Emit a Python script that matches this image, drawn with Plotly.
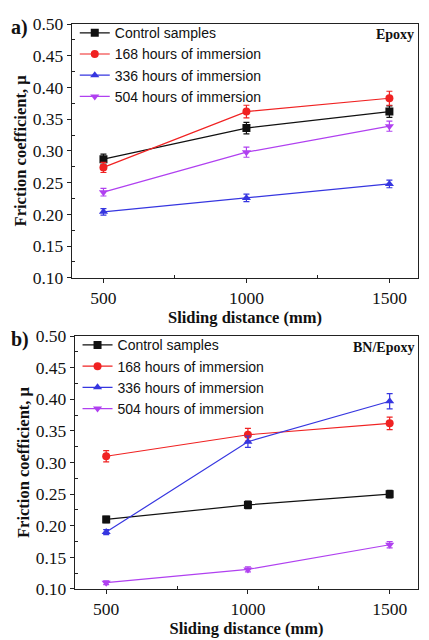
"""Friction coefficient vs sliding distance for Epoxy and BN/Epoxy after immersion."""

import plotly.graph_objects as go
from plotly.subplots import make_subplots

DISTANCE = [500, 1000, 1500]
SERIES_NAMES = [
    "Control samples",
    "168 hours of immersion",
    "336 hours of immersion",
    "504 hours of immersion",
]

# panel a) Epoxy
EPOXY_MEAN = [
    [0.287, 0.336, 0.362],
    [0.274, 0.362, 0.383],
    [0.204, 0.226, 0.248],
    [0.235, 0.298, 0.339],
]
EPOXY_ERR = [
    [0.008, 0.009, 0.009],
    [0.008, 0.010, 0.011],
    [0.005, 0.006, 0.006],
    [0.006, 0.008, 0.008],
]

# panel b) BN/Epoxy
BN_MEAN = [
    [0.210, 0.233, 0.250],
    [0.310, 0.344, 0.362],
    [0.190, 0.333, 0.397],
    [0.110, 0.131, 0.170],
]
BN_ERR = [
    [0.005, 0.006, 0.006],
    [0.009, 0.010, 0.010],
    [0.004, 0.009, 0.012],
    [0.003, 0.004, 0.005],
]

Y_TICKS = [0.10, 0.15, 0.20, 0.25, 0.30, 0.35, 0.40, 0.45, 0.50]

COLORS = ["#111111", "#F02222", "#3636E0", "#B040F0"]
SYMBOLS = ["square", "circle", "triangle-up", "triangle-down"]

SERIF = "Liberation Serif, Times New Roman, serif"
SANS = "Liberation Sans, Arial, sans-serif"

fig = make_subplots(rows=2, cols=1)

for row, (means, errs, legend) in enumerate(
    [(EPOXY_MEAN, EPOXY_ERR, "legend"), (BN_MEAN, BN_ERR, "legend2")], start=1
):
    for name, y, e, color, symbol in zip(SERIES_NAMES, means, errs, COLORS, SYMBOLS):
        fig.add_trace(
            go.Scatter(
                x=DISTANCE,
                y=y,
                name=name,
                mode="lines+markers",
                line=dict(color=color, width=1.2),
                marker=dict(color=color, symbol=symbol, size=8),
                error_y=dict(type="data", array=e, color=color, thickness=1.2, width=3),
                legend=legend,
            ),
            row=row,
            col=1,
        )

axis_common = dict(
    showline=True,
    linecolor="#222222",
    linewidth=1.3,
    mirror=True,
    ticks="outside",
    ticklen=4,
    tickcolor="#222222",
    showgrid=False,
    zeroline=False,
    automargin=False,
    tickfont=dict(family=SERIF, size=17.5, color="#111111"),
)

fig.update_xaxes(
    **axis_common,
    range=[390, 1600],
    tickvals=DISTANCE,
    minor=dict(tickvals=[750, 1250], ticks="inside", ticklen=3, tickcolor="#222222"),
    title=dict(
        text="<b>Sliding distance (mm)</b>",
        font=dict(family=SERIF, size=16.5, color="#111111"),
        standoff=0,
    ),
)
fig.update_yaxes(
    **axis_common,
    range=[0.1, 0.5],
    tickvals=Y_TICKS,
    ticktext=[f"{v:.2f}" for v in Y_TICKS],
    minor=dict(
        tickvals=[0.125, 0.175, 0.225, 0.275, 0.325, 0.375, 0.425, 0.475],
        ticks="inside",
        ticklen=3,
        tickcolor="#222222",
    ),
    title=dict(
        text="<b>Friction coefficient, μ</b>",
        font=dict(family=SERIF, size=16.5, color="#111111"),
        standoff=1,
    ),
)

fig.update_layout(
    xaxis=dict(domain=[0.0, 1.0]),
    xaxis2=dict(domain=[0.0087, 1.0]),
    yaxis=dict(domain=[0.5507, 1.0]),
    yaxis2=dict(domain=[0.0, 0.4476]),
)

legend_common = dict(
    font=dict(family=SANS, size=14, color="#111111"),
    bgcolor="rgba(0,0,0,0)",
    itemwidth=30,
    tracegroupgap=0,
    xanchor="left",
    yanchor="top",
)
fig.update_layout(
    legend=dict(**legend_common, x=0.008, y=1.012),
    legend2=dict(**legend_common, x=0.016, y=0.4596),
)

fig.add_annotation(
    text="<b>Epoxy</b>", xref="paper", yref="paper", x=0.995, y=0.982,
    xanchor="right", yanchor="middle", showarrow=False,
    font=dict(family=SERIF, size=14, color="#111111"),
)
fig.add_annotation(
    text="<b>BN/Epoxy</b>", xref="paper", yref="paper", x=0.995, y=0.4275,
    xanchor="right", yanchor="middle", showarrow=False,
    font=dict(family=SERIF, size=14, color="#111111"),
)
fig.add_annotation(
    text="<b>a)</b>", xref="paper", yref="paper", x=-0.182, y=0.993,
    xanchor="left", yanchor="middle", showarrow=False,
    font=dict(family=SERIF, size=20, color="#111111"),
)
fig.add_annotation(
    text="<b>b)</b>", xref="paper", yref="paper", x=-0.182, y=0.442,
    xanchor="left", yanchor="middle", showarrow=False,
    font=dict(family=SERIF, size=20, color="#111111"),
)

# the page body adds an 8 px margin, so the figure is 8 px smaller each way
fig.update_layout(
    width=421,
    height=632,
    margin=dict(l=64, r=11, t=9, b=51),
    paper_bgcolor="white",
    plot_bgcolor="white",
    showlegend=True,
)

fig.write_html("out.html")
